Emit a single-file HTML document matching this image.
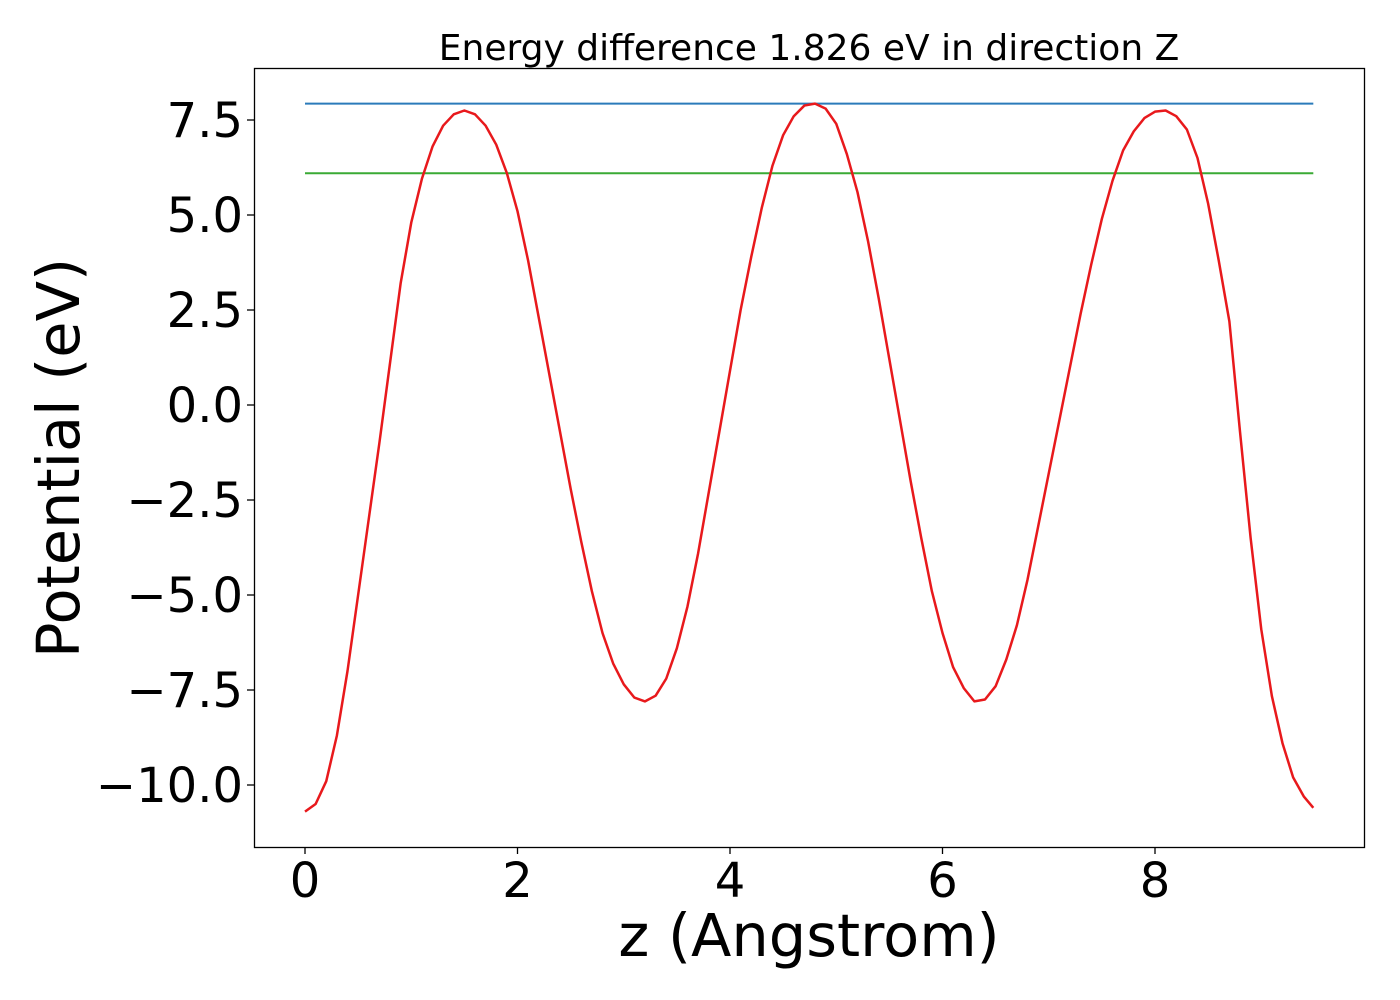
<!DOCTYPE html>
<html><head><meta charset="utf-8"><style>
html,body{margin:0;padding:0;background:#fff;}
svg{display:block;font-family:"DejaVu Sans","Liberation Sans",sans-serif;}
</style></head><body>
<svg id="chart" width="1400" height="1000" viewBox="0 0 1400 1000" xmlns="http://www.w3.org/2000/svg">
<rect x="0" y="0" width="1400" height="1000" fill="#fff"/>
<text x="809" y="60" font-size="36" text-anchor="middle" fill="#000">Energy difference 1.826 eV in direction Z</text>
<g id="plot"></g>
<text x="809" y="956" font-size="59" text-anchor="middle" fill="#000">z (Angstrom)</text>
<text transform="translate(79,458) rotate(-90)" font-size="59" text-anchor="middle" fill="#000">Potential (eV)</text>
<rect x="254.5" y="68.5" width="1110" height="779" fill="none" stroke="#000" stroke-width="1.3"/>
</svg>
<script>
const xs=[0,0.1,0.2,0.3,0.4,0.5,0.6,0.7,0.8,0.9,1.0,1.1,1.2,1.3,1.4,1.5,1.6,1.7,1.8,1.9,2.0,2.1,2.2,2.3,2.4,2.5,2.6,2.7,2.8,2.9,3.0,3.1,3.2,3.3,3.4,3.5,3.6,3.7,3.8,3.9,4.0,4.1,4.2,4.3,4.4,4.5,4.6,4.7,4.8,4.9,5.0,5.1,5.2,5.3,5.4,5.5,5.6,5.7,5.8,5.9,6.0,6.1,6.2,6.3,6.4,6.5,6.6,6.7,6.8,6.9,7.0,7.1,7.2,7.3,7.4,7.5,7.6,7.7,7.8,7.9,8.0,8.1,8.2,8.3,8.4,8.5,8.6,8.7,8.8,8.9,9.0,9.1,9.2,9.3,9.4,9.49];
const potential=[-10.7,-10.5,-9.9,-8.7,-7.0,-5.0,-3.0,-1.0,1.1,3.2,4.8,5.95,6.8,7.35,7.65,7.75,7.65,7.35,6.85,6.1,5.1,3.8,2.3,0.8,-0.7,-2.2,-3.6,-4.9,-6.0,-6.8,-7.35,-7.7,-7.8,-7.65,-7.2,-6.4,-5.3,-3.9,-2.3,-0.7,0.9,2.5,3.9,5.2,6.3,7.1,7.6,7.88,7.93,7.8,7.4,6.6,5.6,4.3,2.8,1.2,-0.4,-2.0,-3.5,-4.9,-6.0,-6.9,-7.45,-7.8,-7.75,-7.4,-6.7,-5.8,-4.6,-3.2,-1.8,-0.4,1.0,2.4,3.7,4.9,5.9,6.7,7.2,7.55,7.72,7.75,7.6,7.25,6.5,5.3,3.8,2.2,-0.7,-3.5,-5.9,-7.66,-8.9,-9.8,-10.3,-10.6];
const levelHigh=[7.93];
const levelLow=[6.10];
const xTicks=[0,2,4,6,8];
const yTicks=[7.5,5.0,2.5,0.0,-2.5,-5.0,-7.5,-10.0];
const xMin=0,xMax=9.49;
function X(v){return 305+v*106.25;}
function Y(v){return 405-v*38;}
const NS="http://www.w3.org/2000/svg";
const g=document.getElementById('plot');
function mk(t,a){const e=document.createElementNS(NS,t);for(const k in a)e.setAttribute(k,a[k]);g.appendChild(e);return e;}
xTicks.forEach(t=>{
 const l=mk('line',{x1:X(t),x2:X(t),y1:847,y2:854,stroke:'#000','stroke-width':1.3});
 
 
 const s=mk('text',{x:X(t),y:897,'font-size':48,'text-anchor':'middle',fill:'#000'});
 s.textContent=String(t);
 
 
});
yTicks.forEach(t=>{
 const l=mk('line',{x1:247,x2:254,y1:Y(t),y2:Y(t),stroke:'#000','stroke-width':1.3});
 
 
 const s=mk('text',{x:243,y:Y(t)+17,'font-size':48,'text-anchor':'end',fill:'#000'});
 s.textContent=(t<0?'\u2212':'')+Math.abs(t).toFixed(1);
 
 
});
const hb=mk('line',{x1:X(xMin),x2:X(xMax),y1:Y(levelHigh[0]),y2:Y(levelHigh[0]),stroke:'#2b7bba','stroke-width':2});


const hg=mk('line',{x1:X(xMin),x2:X(xMax),y1:Y(levelLow[0]),y2:Y(levelLow[0]),stroke:'#3aaa35','stroke-width':2});


const p=mk('polyline',{points:xs.map((x,i)=>X(x)+','+Y(potential[i])).join(' '),fill:'none',stroke:'#e8191c','stroke-width':2.5,'stroke-linejoin':'round'});


</script>
</body></html>
